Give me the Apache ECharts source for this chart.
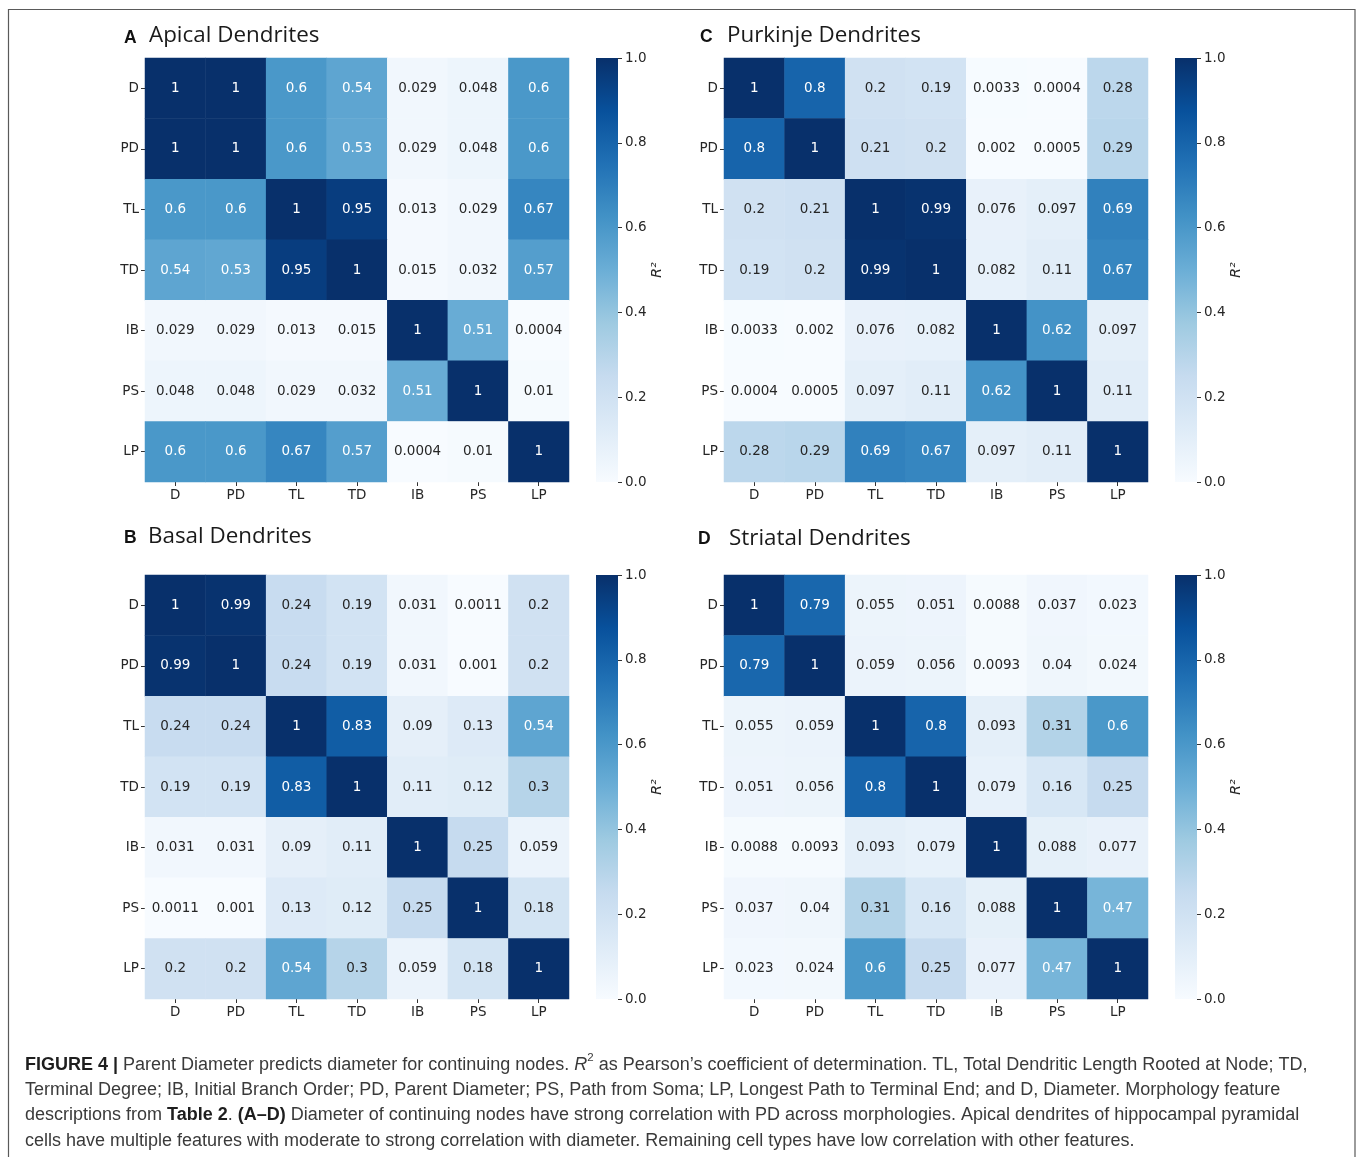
<!DOCTYPE html>
<html>
<head>
<meta charset="utf-8">
<title>Figure 4 – R² between dendrite morphology features</title>
<script src="https://cdn.jsdelivr.net/npm/echarts@6/dist/echarts.min.js"></script>
<style>
  html, body { margin: 0; padding: 0; background: #fff; }
  #chart { width: 1360px; height: 1157px; }
</style>
</head>
<body>
<div id="chart"></div>
<script>
// Morphology features (row and column order of every matrix)
const features = ['D', 'PD', 'TL', 'TD', 'IB', 'PS', 'LP'];

// R² matrices, one row per feature
const apical = [
  [1, 1, 0.6, 0.54, 0.029, 0.048, 0.6],
  [1, 1, 0.6, 0.53, 0.029, 0.048, 0.6],
  [0.6, 0.6, 1, 0.95, 0.013, 0.029, 0.67],
  [0.54, 0.53, 0.95, 1, 0.015, 0.032, 0.57],
  [0.029, 0.029, 0.013, 0.015, 1, 0.51, 0.0004],
  [0.048, 0.048, 0.029, 0.032, 0.51, 1, 0.01],
  [0.6, 0.6, 0.67, 0.57, 0.0004, 0.01, 1]
];
const purkinje = [
  [1, 0.8, 0.2, 0.19, 0.0033, 0.0004, 0.28],
  [0.8, 1, 0.21, 0.2, 0.002, 0.0005, 0.29],
  [0.2, 0.21, 1, 0.99, 0.076, 0.097, 0.69],
  [0.19, 0.2, 0.99, 1, 0.082, 0.11, 0.67],
  [0.0033, 0.002, 0.076, 0.082, 1, 0.62, 0.097],
  [0.0004, 0.0005, 0.097, 0.11, 0.62, 1, 0.11],
  [0.28, 0.29, 0.69, 0.67, 0.097, 0.11, 1]
];
const basal = [
  [1, 0.99, 0.24, 0.19, 0.031, 0.0011, 0.2],
  [0.99, 1, 0.24, 0.19, 0.031, 0.001, 0.2],
  [0.24, 0.24, 1, 0.83, 0.09, 0.13, 0.54],
  [0.19, 0.19, 0.83, 1, 0.11, 0.12, 0.3],
  [0.031, 0.031, 0.09, 0.11, 1, 0.25, 0.059],
  [0.0011, 0.001, 0.13, 0.12, 0.25, 1, 0.18],
  [0.2, 0.2, 0.54, 0.3, 0.059, 0.18, 1]
];
const striatal = [
  [1, 0.79, 0.055, 0.051, 0.0088, 0.037, 0.023],
  [0.79, 1, 0.059, 0.056, 0.0093, 0.04, 0.024],
  [0.055, 0.059, 1, 0.8, 0.093, 0.31, 0.6],
  [0.051, 0.056, 0.8, 1, 0.079, 0.16, 0.25],
  [0.0088, 0.0093, 0.093, 0.079, 1, 0.088, 0.077],
  [0.037, 0.04, 0.31, 0.16, 0.088, 1, 0.47],
  [0.023, 0.024, 0.6, 0.25, 0.077, 0.47, 1]
];

// Colour bar range and ticks
const colorbarMin = 0;
const colorbarMax = 1;
const colorbarStep = 0.2;

// Panel titles
const panelLetters = ['A', 'C', 'B', 'D'];
const panelTitles = ['Apical Dendrites', 'Purkinje Dendrites', 'Basal Dendrites', 'Striatal Dendrites'];

// "Blues" sequential palette
const BLUES = ['#f7fbff', '#deebf7', '#c6dbef', '#9ecae1', '#6baed6',
               '#4292c6', '#2171b5', '#08519c', '#08306b'];

const matrices = [apical, purkinje, basal, striatal];

// Layout of the four panels: heatmap box + colour bar box
const layout = [
  { left: 145, top: 58,  cbLeft: 596,  letter: [124, 38],  title: [149, 36] },
  { left: 724, top: 58,  cbLeft: 1175, letter: [700, 37],  title: [727, 36] },
  { left: 145, top: 575, cbLeft: 596,  letter: [124, 538], title: [148, 537] },
  { left: 724, top: 575, cbLeft: 1175, letter: [698, 539], title: [729, 539] }
];
const SIZE = 424;
const CB_W = 22;

const TXT = '#262626';
const FONT = 'DejaVu Sans';
const FS = 13.5;

const grid = [], xAxis = [], yAxis = [], series = [], visualMap = [], graphic = [];

matrices.forEach((m, p) => {
  const L = layout[p];
  // heatmap grid
  grid.push({ left: L.left, top: L.top, width: SIZE, height: SIZE });
  const gi = grid.length - 1;
  xAxis.push({
    type: 'category', gridIndex: gi, data: features, position: 'bottom',
    axisLine: { show: false },
    axisTick: { show: true, alignWithLabel: true, length: 4, lineStyle: { color: '#333', width: 1 } },
    axisLabel: { color: TXT, fontFamily: FONT, fontSize: FS, margin: 6 },
    splitLine: { show: false }
  });
  yAxis.push({
    type: 'category', gridIndex: gi, data: features, inverse: true,
    axisLine: { show: false },
    axisTick: { show: true, alignWithLabel: true, length: 4, lineStyle: { color: '#333', width: 1 } },
    axisLabel: { color: TXT, fontFamily: FONT, fontSize: FS, margin: 6 },
    splitLine: { show: false }
  });
  const data = [];
  m.forEach((row, r) => row.forEach((v, c) => {
    data.push({
      value: [c, r, v],
      label: { color: v > 0.4 ? '#ffffff' : TXT }
    });
  }));
  series.push({
    type: 'heatmap', name: panelTitles[p],
    xAxisIndex: xAxis.length - 1, yAxisIndex: yAxis.length - 1,
    data: data,
    label: {
      show: true, fontFamily: FONT, fontSize: FS,
      formatter: (d) => String(d.value[2])
    },
    itemStyle: { borderWidth: 0 },
    emphasis: { disabled: true },
    silent: true
  });
  visualMap.push({
    type: 'continuous', show: false, min: colorbarMin, max: colorbarMax,
    seriesIndex: series.length - 1, inRange: { color: BLUES }
  });

  // colour bar
  grid.push({ left: L.cbLeft, top: L.top, width: CB_W, height: SIZE });
  const ci = grid.length - 1;
  xAxis.push({
    type: 'category', gridIndex: ci, data: ['R²'],
    axisLine: { show: false }, axisTick: { show: false }, axisLabel: { show: false }
  });
  yAxis.push({
    type: 'value', gridIndex: ci, position: 'right',
    min: colorbarMin, max: colorbarMax, interval: colorbarStep,
    axisLine: { show: false },
    axisTick: { show: true, length: 4, lineStyle: { color: '#333', width: 1 } },
    axisLabel: { color: TXT, fontFamily: FONT, fontSize: FS, margin: 7,
                 formatter: (v) => v.toFixed(1) },
    splitLine: { show: false },
    name: 'R²', nameLocation: 'middle', nameGap: 31, nameRotate: 90,
    nameTextStyle: { color: TXT, fontFamily: FONT, fontSize: 14, fontStyle: 'italic' }
  });
  series.push({
    type: 'bar', xAxisIndex: xAxis.length - 1, yAxisIndex: yAxis.length - 1,
    data: [colorbarMax], barWidth: '100%', silent: true,
    itemStyle: {
      color: new echarts.graphic.LinearGradient(0, 1, 0, 0,
        BLUES.map((c, i) => ({ offset: i / (BLUES.length - 1), color: c })))
    }
  });

  // panel letter and title
  graphic.push({
    type: 'text', silent: true,
    style: { x: L.letter[0], y: L.letter[1], text: panelLetters[p], fill: '#111',
             fontFamily: 'Liberation Sans', fontWeight: 'bold', fontSize: 17.5,
             verticalAlign: 'middle', align: 'left' }
  });
  graphic.push({
    type: 'text', silent: true,
    style: { x: L.title[0], y: L.title[1], text: panelTitles[p], fill: '#1a1a1a',
             fontFamily: 'Open Sans', fontSize: 22.4,
             verticalAlign: 'middle', align: 'left' }
  });
});

// frame round the figure
graphic.push({
  type: 'rect', silent: true,
  shape: { x: 8.5, y: 9.5, width: 1346.5, height: 1170 },
  style: { fill: 'none', stroke: '#5a5a5a', lineWidth: 1.2 }
});

// caption
const capBase = { fontFamily: 'Liberation Sans', fontSize: 18, lineHeight: 25.4, fill: '#3a3a3a' };
const captionLines = [
  '{b|FIGURE 4 |} Parent Diameter predicts diameter for continuing nodes. {i|R}{s|2} as Pearson\u2019s coefficient of determination. TL, Total Dendritic Length Rooted at Node; TD,',
  'Terminal Degree; IB, Initial Branch Order; PD, Parent Diameter; PS, Path from Soma; LP, Longest Path to Terminal End; and D, Diameter. Morphology feature',
  'descriptions from {b|Table 2}. {b|(A\u2013D)} Diameter of continuing nodes have strong correlation with PD across morphologies. Apical dendrites of hippocampal pyramidal',
  'cells have multiple features with moderate to strong correlation with diameter. Remaining cell types have low correlation with other features.'
];
graphic.push({
  type: 'text', silent: true,
  style: Object.assign({}, capBase, {
    x: 25, y: 1052, text: captionLines.join('\n'), align: 'left', verticalAlign: 'top',
    rich: {
      b: Object.assign({}, capBase, { fontWeight: 'bold', fill: '#1e1e1e' }),
      i: Object.assign({}, capBase, { fontStyle: 'italic' }),
      s: Object.assign({}, capBase, { fontSize: 11.5, lineHeight: 16, verticalAlign: 'top' })
    }
  })
});

const chart = echarts.init(document.getElementById('chart'), null, { renderer: 'canvas' });
chart.setOption({
  backgroundColor: '#ffffff',
  animation: false,
  grid, xAxis, yAxis, series, visualMap, graphic
});
</script>
</body>
</html>
